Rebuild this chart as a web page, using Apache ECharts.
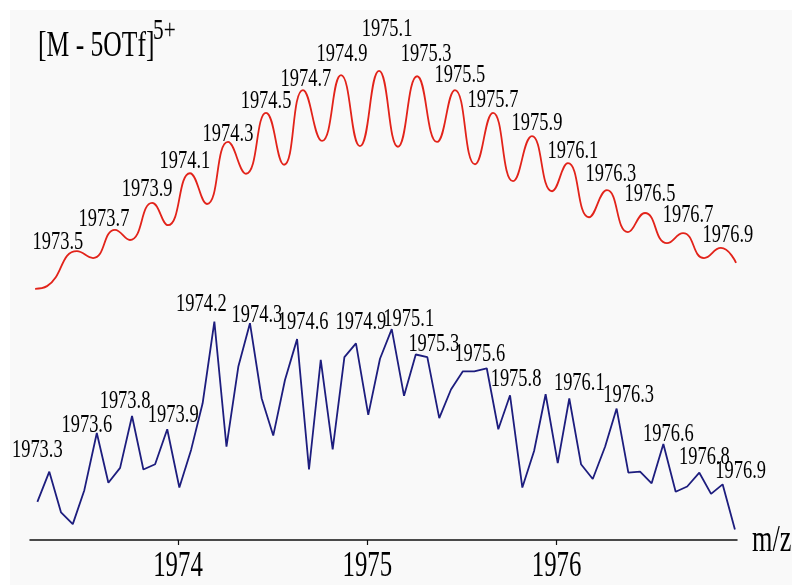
<!DOCTYPE html>
<html>
<head>
<meta charset="utf-8">
<script src="https://cdn.jsdelivr.net/npm/echarts@6/dist/echarts.min.js"></script>
<style>
html,body{margin:0;padding:0;background:#fff;}
#chart{width:795px;height:585px;}
</style>
</head>
<body>
<div id="chart"></div>
<script>
// ---------- DATA ----------
const xTickValues = [1974, 1975, 1976];
const xTickLabels = ['1974', '1975', '1976'];
const axisName = 'm/z';
const titleMain = '[M - 5OTf]';
const titleSup = '5+';

// simulated isotope pattern (red): m/z and relative intensity (peaks and valleys)
const redX = [1973.245, 1973.308, 1973.466, 1973.551, 1973.667, 1973.746, 1973.863, 1973.947, 1974.063, 1974.153,
  1974.264, 1974.359, 1974.465, 1974.560, 1974.660, 1974.761, 1974.861, 1974.961, 1975.062, 1975.162,
  1975.263, 1975.368, 1975.463, 1975.569, 1975.664, 1975.770, 1975.870, 1975.976, 1976.060, 1976.171,
  1976.266, 1976.377, 1976.467, 1976.583, 1976.668, 1976.779, 1976.868, 1976.948];
const redY = [47.4, 47.9, 54.5, 53.2, 58.5, 56.6, 63.6, 59.4, 69.2, 63.4,
  75.1, 69.1, 80.6, 70.8, 84.9, 75.3, 87.7, 74.3, 88.5, 74.2,
  87.5, 75.1, 84.9, 70.9, 80.6, 67.7, 76.2, 65.8, 71.1, 60.9,
  66.0, 58.1, 61.7, 56.0, 57.9, 53.2, 55.1, 52.3];
const redLabels = ['1973.5', '1973.7', '1973.9', '1974.1', '1974.3', '1974.5', '1974.7', '1974.9', '1975.1',
  '1975.3', '1975.5', '1975.7', '1975.9', '1976.1', '1976.3', '1976.5', '1976.7', '1976.9'];
const redPeakIdx = [2, 4, 6, 8, 10, 12, 14, 16, 18, 20, 22, 24, 26, 28, 30, 32, 34, 36];

// experimental spectrum (blue)
const blueX = [1973.257, 1973.320, 1973.382, 1973.444, 1973.505, 1973.571, 1973.632, 1973.694, 1973.757, 1973.817,
  1973.879, 1973.943, 1974.007, 1974.069, 1974.130, 1974.192, 1974.256, 1974.319, 1974.380, 1974.442,
  1974.503, 1974.565, 1974.629, 1974.692, 1974.754, 1974.817, 1974.879, 1974.940, 1975.005, 1975.067,
  1975.129, 1975.194, 1975.256, 1975.317, 1975.380, 1975.442, 1975.504, 1975.565, 1975.631, 1975.692,
  1975.754, 1975.819, 1975.881, 1975.942, 1976.006, 1976.067, 1976.129, 1976.191, 1976.256, 1976.317,
  1976.379, 1976.441, 1976.502, 1976.564, 1976.629, 1976.690, 1976.754, 1976.816, 1976.877, 1976.942];
const blueY = [7.2, 12.9, 5.2, 3.0, 9.4, 20.2, 10.8, 13.6, 23.4, 13.3,
  14.3, 20.9, 9.9, 17.0, 25.8, 41.2, 17.6, 32.8, 40.9, 26.7,
  19.7, 30.2, 37.9, 13.3, 34.0, 17.1, 34.5, 37.1, 23.6, 34.2,
  39.8, 27.2, 35.0, 34.5, 23.0, 28.4, 31.8, 31.8, 32.4, 20.9,
  27.3, 9.9, 16.8, 27.5, 14.5, 26.7, 14.3, 11.5, 17.6, 24.8,
  12.7, 12.9, 10.7, 18.1, 9.1, 10.1, 12.7, 8.7, 10.5, 2.0];
const blueLabels = ['1973.3', '1973.6', '1973.8', '1973.9', '1974.2', '1974.3', '1974.6', '1974.9', '1975.1',
  '1975.3', '1975.6', '1975.8', '1976.1', '1976.3', '1976.6', '1976.8', '1976.9'];
const bluePeakIdx = [1, 5, 8, 11, 15, 18, 22, 27, 30, 32, 38, 40, 45, 49, 53, 56, 58];

// ---------- STYLE ----------
// label nudges (px) relative to the labelled peak: [dx, dy of text baseline]
const redLabelNudge = [[-19, 3], [-11, 1], [-5, -2], [-5, 0], [0, 4], [0, 0], [3, 1], [1, -9], [8, -30],
  [9, -10], [5, -3], [0, -1], [5, -1], [5, 0], [4, -4], [5, -7], [5, -6], [7, -1]];
const blueLabelNudge = [[-12, -9], [-10, 4], [-7, -3], [6, -2], [-13, -5], [7, 4], [6, -5], [5, -9], [17, 2],
  [18, 2], [-7, -2], [6, -4], [10, -3], [12, -1], [5, 2], [5, -4], [18, -1]];

const SERIF = "'Liberation Serif', 'Times New Roman', serif";
const RED = '#e2231a';
const BLUE = '#1d1d7e';
const INK = '#000';
const SQUEEZE = 0.71;   // the original typography is horizontally condensed

const chart = echarts.init(document.getElementById('chart'), null, { renderer: 'canvas' });
chart.setOption({
  animation: false,
  backgroundColor: '#ffffff',
  grid: { left: 30, right: 58, top: 10, bottom: 45 },
  xAxis: {
    type: 'value', min: 1973.218, max: 1976.953,
    axisLine: { show: true, lineStyle: { color: '#111', width: 1.5 } },
    axisTick: { show: true, length: 5, customValues: xTickValues, lineStyle: { color: '#111', width: 1.2 } },
    axisLabel: { show: false },
    splitLine: { show: false }
  },
  yAxis: { type: 'value', min: 0, max: 100, show: false },
  series: [
    {
      type: 'line', data: redX.map((x, i) => [x, redY[i]]), smooth: 0.5, showSymbol: false, silent: true,
      lineStyle: { color: RED, width: 1.8 }
    },
    {
      type: 'line', data: blueX.map((x, i) => [x, blueY[i]]), showSymbol: false, silent: true,
      lineStyle: { color: BLUE, width: 1.8 }
    }
  ]
});

// ---------- TEXT (positioned through the chart's own scales) ----------
const toPx = (x, y) => chart.convertToPixel({ gridIndex: 0 }, [x, y]);
const squeezedText = (text, x, y, size, align, vAlign) => ({
  type: 'text', x: x, y: y, scaleX: SQUEEZE, silent: true, z: 10,
  style: { text: text, font: size + 'px ' + SERIF, fill: INK, align: align, verticalAlign: vAlign }
});

const g = [
  { type: 'rect', z: -10, silent: true, shape: { x: 10, y: 10, width: 782, height: 575 }, style: { fill: '#f9f9f9' } }
];
redPeakIdx.forEach((idx, k) => {
  const p = toPx(redX[idx], redY[idx]);
  g.push(squeezedText(redLabels[k], p[0] + redLabelNudge[k][0], p[1] + redLabelNudge[k][1] + 1, 26, 'center', 'bottom'));
});
bluePeakIdx.forEach((idx, k) => {
  const p = toPx(blueX[idx], blueY[idx]);
  g.push(squeezedText(blueLabels[k], p[0] + blueLabelNudge[k][0], p[1] + blueLabelNudge[k][1] + 1, 26, 'center', 'bottom'));
});
const axisY = toPx(xTickValues[0], 0)[1];
xTickValues.forEach((v, k) => {
  const p = toPx(v, 0);
  g.push(squeezedText(xTickLabels[k], p[0], axisY + 9, 35, 'center', 'top'));
});
const axisEnd = toPx(1976.953, 0);
g.push(squeezedText(axisName, axisEnd[0] + 15, axisY + 1, 37, 'left', 'middle'));
g.push(squeezedText(titleMain, 38, 29, 36, 'left', 'top'));
g.push(squeezedText(titleSup, 153, 16, 30, 'left', 'top'));

chart.setOption({ graphic: g });
</script>
</body>
</html>
